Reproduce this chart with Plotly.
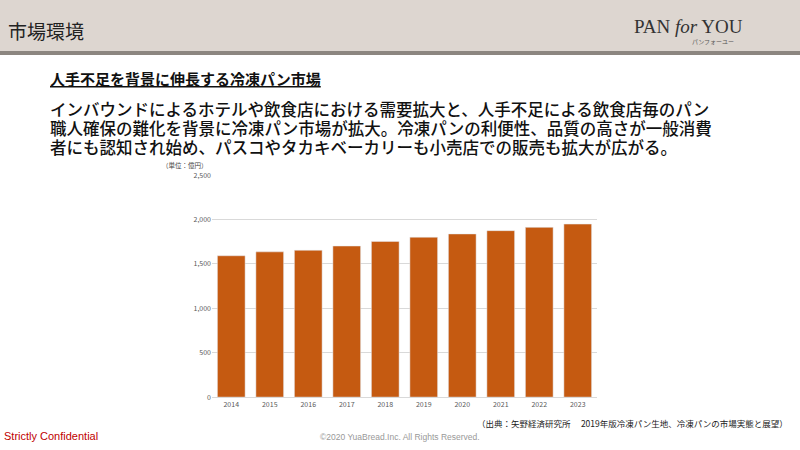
import plotly.graph_objects as go

years = ["2014", "2015", "2016", "2017", "2018", "2019", "2020", "2021", "2022", "2023"]
market = [1592, 1636, 1654, 1702, 1754, 1801, 1838, 1875, 1912, 1949]
y_ticks = [0, 500, 1000, 1500, 2000, 2500]
y_labels = ["0", "500", "1,000", "1,500", "2,000", "2,500"]
body_lines = [
    "インバウンドによるホテルや飲食店における需要拡大と、人手不足による飲食店毎のパン",
    "職人確保の難化を背景に冷凍パン市場が拡大。冷凍パンの利便性、品質の高さが一般消費",
    "者にも認知され始め、パスコやタカキベーカリーも小売店での販売も拡大が広がる。",
]

font = "Noto Sans CJK JP"

fig = go.Figure(go.Bar(x=years, y=market, marker_color="#c55a11", width=0.72))

fig.update_layout(
    width=800, height=450, margin=dict(l=0, r=0, t=0, b=0),
    paper_bgcolor="white", plot_bgcolor="white", showlegend=False,
    font=dict(family=font, color="#595959"),
    xaxis=dict(domain=[212/800, 597/800], tickfont=dict(size=7, color="#595959"), showline=True,
               linecolor="#d9d9d9", ticks=""),
    yaxis=dict(domain=[50/450, 277/450], range=[0, 2500], tickvals=y_ticks,
               ticktext=y_labels, tickfont=dict(size=7, color="#595959"), gridcolor="#d9d9d9",
               zeroline=False),
    shapes=[
        dict(type="rect", xref="paper", yref="paper", x0=0, x1=1, y0=1 - 46/450, y1=1.05,
             fillcolor="#ddd6d0", line_width=0, layer="below"),
        dict(type="rect", xref="paper", yref="paper", x0=0, x1=1, y0=1 - 50/450, y1=1 - 46/450,
             fillcolor="#8c8680", line_width=0),
    ],
)

ann = [
    dict(x=6/800, y=1 - 25/450, text="市場環境", size=19, color="#222222", xanchor="left"),
    dict(x=632/800, y=1 - 21/450, text="PAN <i>for</i> YOU", size=19, color="#333333",
         xanchor="left", family="Liberation Serif"),
    dict(x=690/800, y=1 - 36/450, text="パンフォーユー", size=6, color="#555555", xanchor="left"),
    dict(x=48/800, y=1 - 74/450, text="<u><b>人手不足を背景に伸長する冷凍パン市場</b></u>", size=15,
         color="#111111", xanchor="left"),
    dict(x=160/800, y=1 - 163/450, text="（単位：億円）", size=6.5, color="#444444", xanchor="left"),
    dict(x=790/800, y=1 - 426/450, text="（出典：矢野経済研究所　 2019年版冷凍パン生地、冷凍パンの市場実態と展望）",
         size=8.5, color="#222222", xanchor="right"),
    dict(x=2/800, y=1 - 440/450, text="Strictly Confidential", size=11, color="#c00000",
         xanchor="left", family="Liberation Sans"),
    dict(x=400/800, y=1 - 441/450, text="©2020 YuaBread.Inc. All Rights Reserved.", size=8.5,
         color="#999999", xanchor="center", family="Liberation Sans"),
]
for i, line in enumerate(body_lines):
    ann.append(dict(x=48/800, y=1 - (105 + 19.5 * i)/450, text=line, size=16.5,
                    color="#111111", xanchor="left", family="Noto Sans CJK JP Medium, Noto Sans CJK JP"))

for a in ann:
    fig.add_annotation(x=a["x"], y=a["y"], xref="paper", yref="paper", text=a["text"],
                       showarrow=False, xanchor=a["xanchor"], yanchor="middle",
                       font=dict(size=a["size"], color=a["color"], family=a.get("family", font)))

fig.write_html("out.html", config={"displayModeBar": False},
               post_script="document.body.style.margin='0';")
